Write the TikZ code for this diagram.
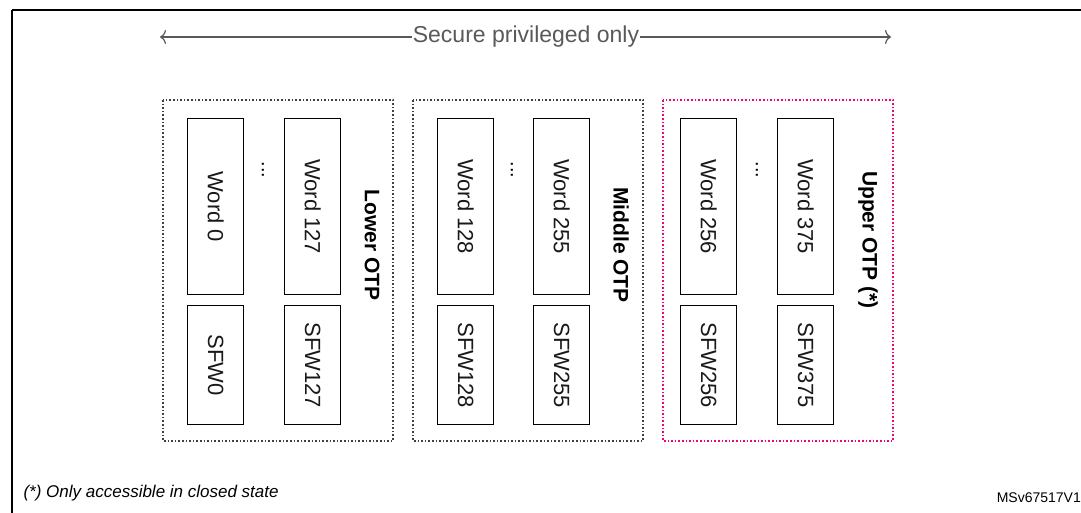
\documentclass[tikz,border=0pt]{standalone}
\usepackage{fontspec}
\setmainfont{Liberation Sans}
\usetikzlibrary{arrows.meta}
\begin{document}
\begin{tikzpicture}[x=1pt,y=-1pt,
  grp/.style={draw=black!75,dotted,line width=1.6pt},
  cell/.style={draw,line width=1.4pt,inner sep=0pt},
  ctext/.style={rotate=-90,text=black!90,font=\fontsize{22}{22}\selectfont},
  lbl/.style={rotate=-90,font=\bfseries\fontsize{21}{21}\selectfont},
  dots/.style={rotate=-90,font=\fontsize{20}{20}\selectfont}]
\useasboundingbox (0,0) rectangle (1081,513);
\draw[line width=1.4pt] (12,10) -- (12,520) (12,10) -- (1090,10);
\node[font=\fontsize{23}{23}\selectfont,text=black!65,inner sep=1pt] (sec) at (526,37) {Secure privileged only};
\coordinate (la) at (160,37); \coordinate (ra) at (891,37);
\draw[black!65,line width=1.2pt,-{To[length=6pt,width=14pt]}] (sec.west) -- (la);
\draw[black!65,line width=1.2pt,-{To[length=6pt,width=14pt]}] (sec.east) -- (ra);
\foreach \n/\gx/\col in {L/163/black!75,M/413/black!75,U/663/magenta!80!red}{
  \draw[grp,draw=\col] (\gx,100) rectangle ++(230,341);}
\foreach \n/\x/\w/\s in {a/187/Word 0/SFW0,b/284/Word 127/SFW127,c/437/Word 128/SFW128,d/533/Word 255/SFW255,e/680/Word 256/SFW256,f/777/Word 375/SFW375}{
  \node[cell,minimum width=56pt,minimum height=176pt,anchor=north west] (w\n) at (\x,118) {};
  \node[ctext] at (w\n.center) {\w};
  \node[cell,minimum width=56pt,minimum height=119pt,anchor=north west] (s\n) at (\x,305) {};
  \node[ctext] at (s\n.center) {\s};}
\node[dots] (d1) at (263,170) {...};
\node[dots] (d2) at (512,170) {...};
\node[dots] (d3) at (757,170) {...};
\node[lbl] (ll) at (372,245) {Lower OTP};
\node[lbl] (ml) at (621,245) {Middle OTP};
\node[lbl] (ul) at (868,240) {Upper OTP (*)};
\node[anchor=west,font=\itshape\fontsize{17}{17}\selectfont] (fn) at (20,493) {(*) Only accessible in closed state};
\node[anchor=east,font=\fontsize{14}{14}\selectfont,inner sep=0pt] (id) at (1081,498) {MSv67517V1};
\end{tikzpicture}
\end{document}
